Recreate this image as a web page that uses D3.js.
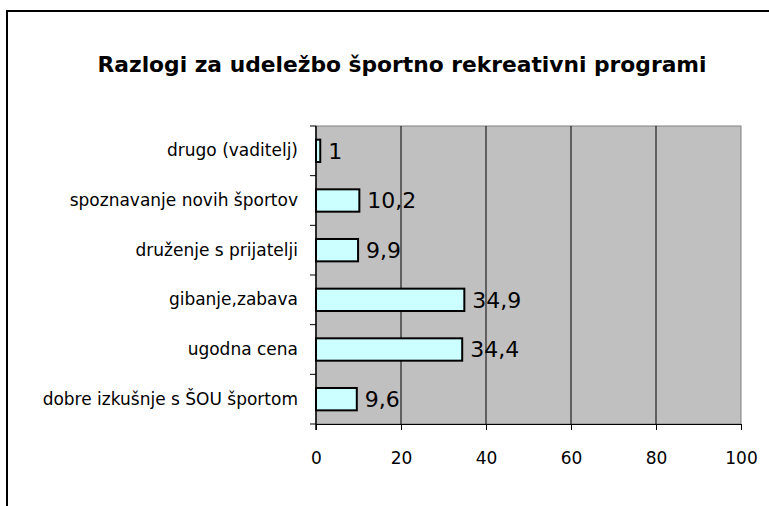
<!DOCTYPE html>
<html><head><meta charset="utf-8">
<script src="https://cdn.jsdelivr.net/npm/d3@7"></script>
<style>body{margin:0;background:#fff}svg{display:block}</style>
</head><body><div id="c"></div>
<script>
const categories = ["drugo (vaditelj)","spoznavanje novih športov","druženje s prijatelji","gibanje,zabava","ugodna cena","dobre izkušnje s ŠOU športom"];
const values = [1, 10.2, 9.9, 34.9, 34.4, 9.6];
const valueLabels = ["1","10,2","9,9","34,9","34,4","9,6"];
const xTicks = [0,20,40,60,80,100];
const title = "Razlogi za udeležbo športno rekreativni programi";

const W=769,H=506;
const svg=d3.select("#c").append("svg").attr("width",W).attr("height",H);
const font="'DejaVu Sans', sans-serif";
// outer frame
svg.append("rect").attr("x",7).attr("y",11).attr("width",800).attr("height",600).attr("fill","#fff").attr("stroke","#000").attr("stroke-width",2);

const L=316,R=741,T=126,B=424;
const x=d3.scaleLinear().domain([0,100]).range([L,R]);
const y=d3.scaleBand().domain(categories).range([T,B]).paddingInner(0.55).paddingOuter(0.275);

const tt=svg.append("text").attr("x",402).attr("y",72).attr("text-anchor","middle")
  .attr("font-family",font).attr("font-weight","bold").attr("font-size",21).text(title);
const tw=tt.node().getComputedTextLength();
if(Math.abs(tw-609)>4) tt.attr("textLength",609).attr("lengthAdjust","spacingAndGlyphs");

svg.append("rect").attr("x",L).attr("y",T).attr("width",R-L).attr("height",B-T).attr("fill","#c0c0c0").attr("stroke","#808080").attr("stroke-width",1);

svg.append("g").selectAll("line").data(xTicks.filter(d=>d>0&&d<100)).join("line")
  .attr("x1",d=>x(d)).attr("x2",d=>x(d)).attr("y1",T).attr("y2",B).attr("stroke","#000").attr("stroke-width",1);

// bars
svg.append("g").selectAll("rect").data(values).join("rect")
  .attr("x",x(0)).attr("y",(d,i)=>y(categories[i])).attr("width",d=>x(d)-x(0)).attr("height",y.bandwidth())
  .attr("fill","#ccffff").attr("stroke","#000").attr("stroke-width",2);

svg.append("g").selectAll("text").data(values).join("text")
  .attr("x",d=>x(d)+8).attr("y",(d,i)=>y(categories[i])+y.bandwidth()/2).attr("dy","0.36em")
  .attr("font-family",font).attr("font-size",22).attr("fill","#000").text((d,i)=>valueLabels[i]);

// x axis
const xa=svg.append("g").attr("transform",`translate(0,${B})`).call(d3.axisBottom(x).tickValues(xTicks).tickSize(6).tickPadding(22).tickFormat(d3.format("d")));
xa.select(".domain").attr("stroke","#000");
xa.selectAll("line").attr("stroke","#000");
xa.selectAll("text").attr("font-family",font).attr("font-size",17).attr("fill","#000");

// y axis
const yb=d3.scaleBand().domain(categories).range([T,B]);
const ya=svg.append("g").attr("transform",`translate(${L},0)`).call(d3.axisLeft(yb).tickSize(0).tickPadding(18));
ya.select(".domain").remove();
ya.selectAll("text").attr("font-family",font).attr("font-size",17).attr("fill","#000");
svg.append("line").attr("x1",L).attr("x2",L).attr("y1",T).attr("y2",B+6).attr("stroke","#000").attr("stroke-width",1.5);
svg.append("g").selectAll("line").data(d3.range(categories.length+1)).join("line")
  .attr("x1",L-6).attr("x2",L).attr("y1",i=>T+i*yb.step()).attr("y2",i=>T+i*yb.step()).attr("stroke","#000");
</script></body></html>
